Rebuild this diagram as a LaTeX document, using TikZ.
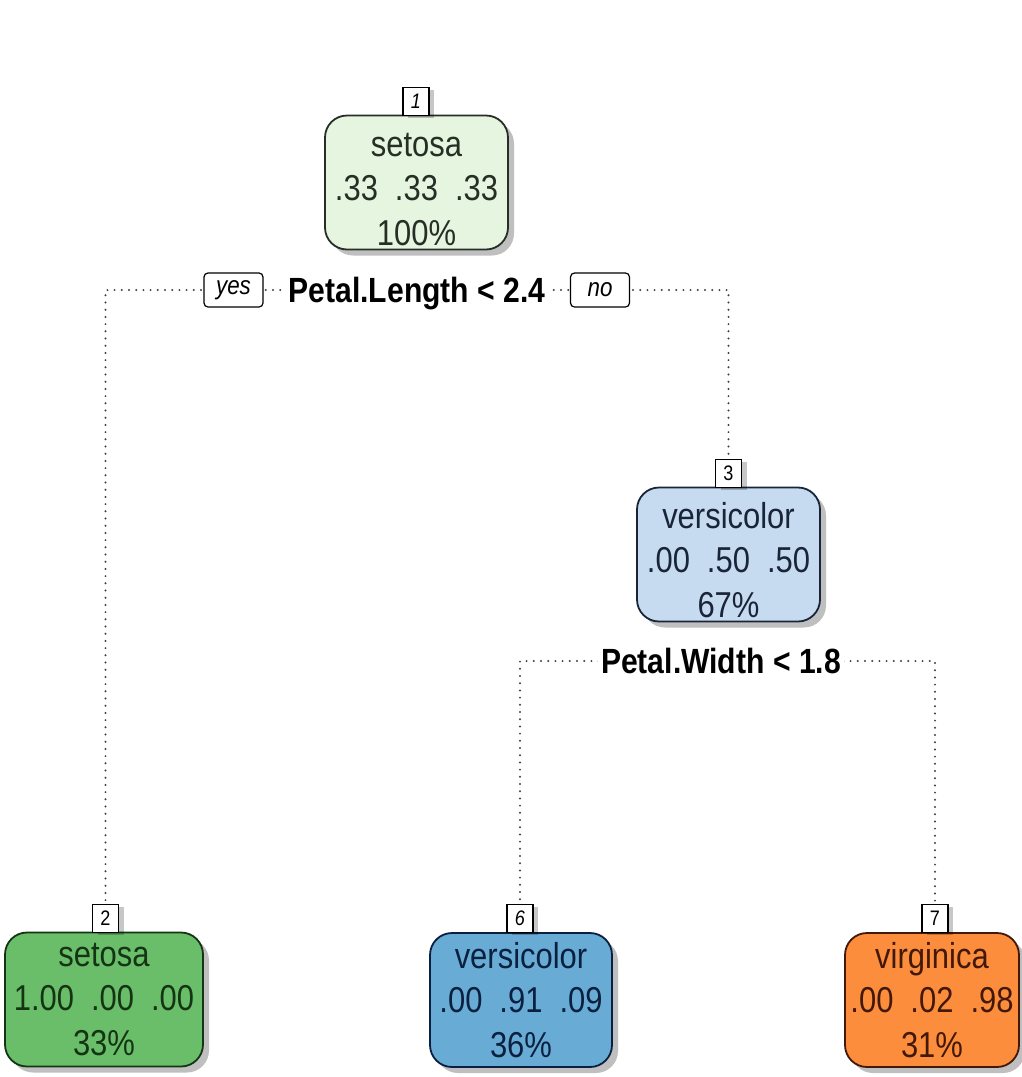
\documentclass[tikz,border=0pt]{standalone}
\usepackage{fontspec}
\setmainfont{Liberation Sans}[FakeStretch=0.86]
\usetikzlibrary{shadows,backgrounds}

% node fills and ink colours
\definecolor{fillA}{RGB}{229,245,224}
\definecolor{inkA}{RGB}{38,46,38}
\definecolor{fillB}{RGB}{106,190,106}
\definecolor{inkB}{RGB}{20,52,20}
\definecolor{fillC}{RGB}{198,219,239}
\definecolor{inkC}{RGB}{26,36,56}
\definecolor{fillD}{RGB}{104,172,214}
\definecolor{inkD}{RGB}{10,32,62}
\definecolor{fillE}{RGB}{252,141,60}
\definecolor{inkE}{RGB}{66,24,8}

% gap between class probabilities, and a strut that lowers the text block
\newcommand\valgap{\hspace{17pt}}
\newcommand\headstrut{\rule{0pt}{37pt}}

\tikzset{
  treebox/.style={rounded corners=22pt, line width=1.8pt, minimum height=134pt,
    inner sep=0pt, align=center, font=\fontsize{36}{44.5}\selectfont,
    drop shadow={shadow xshift=6pt, shadow yshift=-6pt, fill=black, opacity=0.25}},
  numbox/.style={draw=black, fill=white, line width=1.2pt, minimum width=26pt,
    minimum height=28pt, inner sep=0pt, font=\fontsize{21}{21}\selectfont,
    drop shadow={shadow xshift=5pt, shadow yshift=-3pt, fill=black, opacity=0.22}},
  splitlabel/.style={fill=white, inner sep=3pt, text height=25pt, text depth=0pt,
    font=\fontsize{35}{35}\selectfont\bfseries},
  edgelabel/.style={draw=black, fill=white, rounded corners=4pt, line width=1.2pt,
    minimum width=59pt, minimum height=34pt, inner sep=0pt,
    font=\fontsize{26}{26}\selectfont\itshape},
  dotline/.style={draw=black!75, line width=2.2pt, line cap=round,
    dash pattern=on 0pt off 7.2pt}
}

\begin{document}
\begin{tikzpicture}[x=1pt,y=-1pt]
\useasboundingbox (0,0) rectangle (1022,1077);

% tree nodes
\node[treebox, fill=fillA, draw=inkA, text=inkA, minimum width=183pt] (n1) at (416.5,182.5)
  {\headstrut setosa\\.33\valgap.33\valgap.33\\100\%};
\node[treebox, fill=fillC, draw=inkC, text=inkC, minimum width=183pt] (n3) at (728.5,554.5)
  {\headstrut versicolor\\.00\valgap.50\valgap.50\\67\%};
\node[treebox, fill=fillB, draw=inkB, text=inkB, minimum width=198pt] (n2) at (104,999.5)
  {setosa\\1.00\valgap.00\valgap.00\\33\%};
\node[treebox, fill=fillD, draw=inkD, text=inkD, minimum width=182pt] (n6) at (521,1000)
  {versicolor\\.00\valgap.91\valgap.09\\36\%};
\node[treebox, fill=fillE, draw=inkE, text=inkE, minimum width=174pt] (n7) at (932,1000)
  {virginica\\.00\valgap.02\valgap.98\\31\%};

% node numbers
\node[numbox, anchor=south] (k1) at (416,116) {\textit{1}};
\node[numbox, anchor=south] (k3) at (728.5,488) {3};
\node[numbox, anchor=south] (k2) at (105.5,933) {2};
\node[numbox, anchor=south] (k6) at (520,933) {\textit{6}};
\node[numbox, anchor=south] (k7) at (935,933) {7};

% split conditions
\node[splitlabel] (s1) at (417,290) {Petal.Length < 2.4};
\node[splitlabel] (s3) at (721,661) {Petal.Width < 1.8};

% branch labels
\node[edgelabel] (yes) at (233.5,290) {yes};
\node[edgelabel] (no) at (600,290) {no};

% dotted branches
\begin{pgfonlayer}{background}
  \draw[dotline] (s1.center) -| (k2.north);
  \draw[dotline] (s1.center) -| (k3.north);
  \draw[dotline] (s3.center) -| (k6.north);
  \draw[dotline] (s3.center) -| (k7.north);
\end{pgfonlayer}
\end{tikzpicture}
\end{document}
